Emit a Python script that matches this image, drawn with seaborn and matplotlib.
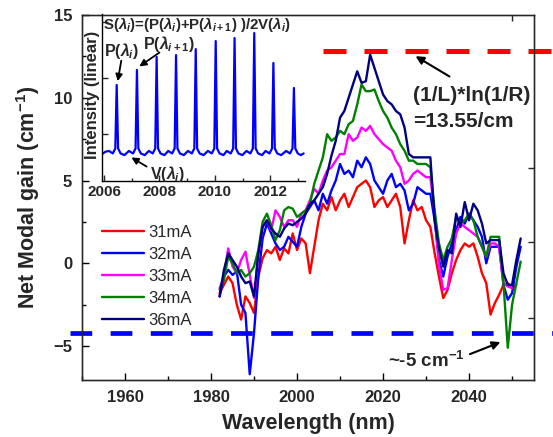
import numpy as np
import pandas as pd
import matplotlib
matplotlib.use("Agg")
import matplotlib.pyplot as plt
import seaborn as sns
from matplotlib.ticker import MultipleLocator

# ---------------- data ----------------
wavelength = list(range(1982, 2053))
nan = float("nan")
gain_31mA = [-1.8, -1.3, -0.8, -1.2, -2.5, -3.4, -2.0, -2.4, -3.0, -0.8,
             0.3, 0.8, 0.6, 1.0, 0.2, 0.9, 0.6, 1.8, 0.8, 1.5,
             1.2, -0.6, 1.0, 2.6, 3.6, 3.2, 4.0, 3.2, 3.8, 4.2,
             3.4, 4.0, 4.6, 4.8, 5.0, 4.6, 3.4, 3.8, 4.0, 3.4,
             3.8, 4.2, 3.4, 1.2, 2.6, 3.8, 3.2, 3.4, 2.6, 2.2,
             0.6, -0.8, -2.1, -1.6, -0.6, 0.2, 0.8, 1.2, 1.0, 1.2,
             0.4, -0.6, -1.2, -3.1, -2.4, -1.9, -1.3, -1.2, -1.5, -1.3, nan]
gain_32mA = [-2.0, -0.8, -0.4, -0.7, -0.5, -2.5, -3.0, -6.7, -4.2, -0.8,
             1.5, 2.4, 1.8, 1.2, 0.8, 1.0, 1.6, 1.3, 1.0, 2.2,
             3.0, 3.4, 3.8, 3.2, 4.2, 3.6, 4.4, 5.0, 6.0, 5.4,
             5.6, 5.2, 6.2, 5.8, 6.4, 6.0, 5.0, 4.6, 4.2, 5.0,
             5.4, 4.6, 4.8, 4.4, 3.2, 3.6, 4.6, 4.4, 4.2, 4.2,
             2.6, 0.2, -0.8, 0.4, 1.2, 2.0, 2.8, 2.4, 3.0, 2.6,
             2.2, 1.6, 0.0, 1.0, 1.0, 1.0, -1.3, -2.2, -1.8, -0.2, 1.0]
gain_33mA = [-1.5, -0.8, 0.9, -0.2, -0.6, 0.2, 0.7, -0.7, -2.1, 0.5,
             2.2, 2.6, 2.0, 3.2, 2.8, 2.2, 2.6, 2.6, 2.2, 3.0,
             3.2, 3.8, 4.5, 4.2, 5.0, 5.6, 5.8, 6.2, 6.6, 6.6,
             7.8, 7.4, 7.6, 8.2, 8.0, 8.3, 7.8, 7.5, 7.2, 7.0,
             6.8, 6.2, 5.8, 4.8, 5.0, 5.4, 5.6, 5.4, 5.2, 5.2,
             3.0, -0.1, -1.6, -1.5, 0.2, 1.8, 2.4, 2.2, 2.0, 1.8,
             1.6, 1.0, 0.4, 1.2, 1.2, 1.0, -1.2, -1.4, -1.5, nan, nan]
gain_34mA = [-1.6, -1.0, 0.4, 0.0, -0.6, -0.4, -0.8, -0.6, -0.2, 0.8,
             2.5, 3.0, 2.3, 1.4, 2.0, 3.2, 3.4, 3.3, 2.8, 3.0,
             3.2, 3.6, 4.8, 5.6, 6.4, 7.8, 7.4, 7.6, 8.0, 7.8,
             8.4, 8.6, 9.6, 10.8, 10.4, 10.4, 10.5, 9.8, 9.2, 8.8,
             8.2, 7.8, 7.2, 6.8, 6.2, 6.2, 6.0, 6.0, 6.0, 5.8,
             3.2, 1.2, 0.2, 1.0, 1.5, 2.8, 2.4, 2.6, 3.0, 2.6,
             1.6, 1.0, 0.4, 1.6, 1.6, 1.6, -1.2, -5.1, -2.5, -1.2, 0.1]
gain_36mA = [-2.0, -0.4, 0.6, 0.2, -0.2, -0.8, -1.2, -1.1, -2.0, 0.6,
             2.2, 2.6, 2.1, 1.8, 1.6, 2.1, 2.4, 2.3, 2.5, 2.7,
             3.0, 3.6, 3.8, 4.2, 4.6, 5.4, 6.5, 7.4, 8.8, 9.2,
             10.0, 10.8, 11.6, 10.9, 11.0, 12.6, 11.8, 11.0, 10.2, 9.8,
             9.6, 9.2, 9.0, 8.2, 6.6, 6.4, 6.4, 6.4, 6.4, 6.4,
             2.6, 0.9, -0.2, 0.8, 0.6, 3.0, 2.2, 3.7, 2.6, 3.6,
             3.2, 2.4, 1.2, 1.4, 1.4, 1.4, -0.6, -1.3, -1.3, 0.2, 1.5]
currents = ["31mA", "32mA", "33mA", "34mA", "36mA"]
colors = ["#ff0000", "#0000ff", "#ff00ff", "#008000", "#000080"]
threshold_gain = 12.8      # (1/L)*ln(1/R) level as drawn
loss_level = -4.2          # ~ -5 cm^-1 level as drawn

# inset spectrum (wavelength nm, intensity linear a.u.)
inset_x = [2005.97, 2006.05, 2006.18, 2006.32, 2006.41, 2006.46, 2006.51, 2006.60, 2006.74, 2006.90,
           2007.05, 2007.14, 2007.19, 2007.24, 2007.33, 2007.47, 2007.62,
           2007.76, 2007.85, 2007.90, 2007.95, 2008.04, 2008.18, 2008.32,
           2008.46, 2008.55, 2008.60, 2008.65, 2008.74, 2008.88, 2009.03,
           2009.17, 2009.26, 2009.31, 2009.36, 2009.45, 2009.59, 2009.75,
           2009.89, 2009.98, 2010.03, 2010.08, 2010.17, 2010.31, 2010.43,
           2010.57, 2010.66, 2010.71, 2010.76, 2010.85, 2010.99, 2011.14,
           2011.28, 2011.37, 2011.42, 2011.47, 2011.56, 2011.70, 2011.83,
           2011.97, 2012.06, 2012.11, 2012.16, 2012.25, 2012.39, 2012.57,
           2012.71, 2012.80, 2012.85, 2012.90, 2012.99, 2013.10, 2013.20]
inset_y = [0.165, 0.175, 0.180, 0.165, 0.195, 0.575, 0.195, 0.165, 0.155, 0.180,
           0.165, 0.195, 0.665, 0.195, 0.165, 0.155, 0.180,
           0.165, 0.195, 0.743, 0.195, 0.165, 0.155, 0.180,
           0.165, 0.195, 0.754, 0.195, 0.165, 0.155, 0.180,
           0.165, 0.195, 0.790, 0.195, 0.165, 0.155, 0.180,
           0.165, 0.195, 0.838, 0.195, 0.165, 0.155, 0.180,
           0.165, 0.195, 0.856, 0.195, 0.165, 0.155, 0.180,
           0.165, 0.195, 0.886, 0.195, 0.165, 0.155, 0.180,
           0.165, 0.195, 0.707, 0.195, 0.165, 0.155, 0.180,
           0.165, 0.195, 0.557, 0.195, 0.165, 0.155, 0.165]

# ---------------- style ----------------
sns.set_style("ticks")
plt.rcParams["font.family"] = ["Liberation Sans", "DejaVu Sans"]
plt.rcParams["mathtext.fontset"] = "custom"
plt.rcParams["mathtext.rm"] = "Liberation Sans:bold"
plt.rcParams["mathtext.bf"] = "Liberation Sans:bold"
plt.rcParams["mathtext.it"] = "Liberation Sans:italic:bold"

W, H = 553, 437
def fp(x, y):
    return (x / W, 1 - y / H)

fig = plt.figure(figsize=(W / 100, H / 100), dpi=100)
fig.patch.set_facecolor("white")
ax = fig.add_axes([82 / W, 1 - 380 / H, (534 - 82) / W, (380 - 15) / H])

df = pd.DataFrame({
    "wavelength": wavelength * 5,
    "gain": gain_31mA + gain_32mA + gain_33mA + gain_34mA + gain_36mA,
    "current": sum([[c] * len(wavelength) for c in currents], []),
})
sns.lineplot(data=df, x="wavelength", y="gain", hue="current",
             palette=dict(zip(currents, colors)), hue_order=currents,
             estimator=None, sort=False, lw=1.7, ax=ax)

ax.set_xlim(1950, 2055.1)
ax.set_ylim(-7.05, 15)
ax.xaxis.set_major_locator(MultipleLocator(20))
ax.xaxis.set_minor_locator(MultipleLocator(10))
ax.yaxis.set_major_locator(MultipleLocator(5))
ax.yaxis.set_minor_locator(MultipleLocator(2.5))
ax.tick_params(which="both", direction="in", width=1, color="black")
ax.tick_params(which="major", length=5, labelsize=12, pad=7)
ax.tick_params(which="minor", length=3)
for lab in ax.get_xticklabels() + ax.get_yticklabels():
    lab.set_fontweight("bold")
for s in ax.spines.values():
    s.set_linewidth(1.0)
    s.set_color("black")
ax.set_xlabel("Wavelength (nm)", fontsize=15.5, fontweight="bold", labelpad=6)
ax.set_ylabel(r"Net Modal gain (cm$^{-1}$)", fontsize=15.5, fontweight="bold", labelpad=8)

# right / top extra ticks
ax2 = ax.twinx()
ax2.set_ylim(ax.get_ylim())
ax2.set_yticks([5.77, 1.26, -3.3])
ax2.set_yticklabels([])
ax2.tick_params(direction="in", length=4, width=1)
ax3 = ax.twiny()
ax3.set_xlim(ax.get_xlim())
ax3.set_xticks([2050])
ax3.set_xticklabels([])
ax3.tick_params(direction="in", length=4, width=1)

# dashed reference levels
ax.plot([2006, 2059.5], [threshold_gain, threshold_gain], color="#ff0000", lw=3.6,
        dashes=(4.6, 3.6), dash_capstyle="butt", clip_on=False, zorder=5)
ax.plot([1947.2, 2059.5], [loss_level, loss_level], color="#0000ff", lw=3.4,
        dashes=(4.6, 3.9), dash_capstyle="butt", clip_on=False, zorder=5)

# legend
handles, labels = ax.get_legend_handles_labels()
leg = ax.legend(handles, labels, loc="upper left", bbox_to_anchor=fp(102, 225),
                bbox_transform=fig.transFigure, frameon=False, fontsize=12,
                handlelength=2.5, handletextpad=0.25, labelspacing=0.42,
                borderpad=0, borderaxespad=0)

# annotations
ax.text(2027.0, 10.15, "(1/L)*ln(1/R)", fontsize=15, fontweight="bold", va="center", ha="left")
ax.text(2027.0, 8.55, "=13.55/cm", fontsize=15, fontweight="bold", va="center", ha="left")
ax.annotate("", xy=(2027.0, 12.6), xytext=(2036.0, 11.2),
            arrowprops=dict(arrowstyle="-|>", color="black", lw=1.5, mutation_scale=12))
ax.text(2021.2, -5.9, r"~-5 cm$^{-1}$", fontsize=13.5, fontweight="bold", va="center", ha="left")
ax.annotate("", xy=(2047.9, -4.7), xytext=(2039.6, -5.55),
            arrowprops=dict(arrowstyle="-|>", color="black", lw=1.5, mutation_scale=12))

# ---------------- inset ----------------
axi = fig.add_axes([102 / W, 1 - 181 / H, (305 - 102) / W, (181 - 14) / H])
axi.set_facecolor("none")
sns.lineplot(x=inset_x, y=inset_y, color="#0000ff", lw=1.6, sort=False, estimator=None, ax=axi)
axi.set_xlim(2005.93, 2013.25)
axi.set_ylim(0, 1)
axi.spines["top"].set_visible(False)
axi.spines["right"].set_visible(False)
for s in ["left", "bottom"]:
    axi.spines[s].set_linewidth(1.0)
    axi.spines[s].set_color("black")
axi.xaxis.set_major_locator(MultipleLocator(2))
axi.xaxis.set_minor_locator(MultipleLocator(1))
axi.set_yticks([0.28, 0.616, 0.95])
axi.set_yticklabels([])
axi.tick_params(which="both", direction="in", width=1)
axi.tick_params(which="major", length=4, labelsize=11, pad=3)
axi.tick_params(which="minor", length=2.5)
for lab in axi.get_xticklabels():
    lab.set_fontweight("bold")
axi.set_xlabel("")
axi.set_ylabel("")

fig.text(*fp(93, 95), "Intensity (linear)", rotation=90, fontsize=12,
         fontweight="bold", ha="center", va="center")
fig.text(*fp(103, 24), r"S($\lambda_{i}$)=(P($\lambda_{i}$)+P($\lambda_{i+1}$) )/2V($\lambda_{i}$)",
         fontsize=10.8, fontweight="bold", ha="left", va="center")
fig.text(*fp(104, 51), r"P($\lambda_{i}$)", fontsize=11.5, fontweight="bold", ha="left", va="center")
fig.text(*fp(143, 44), r"P($\lambda_{i+1}$)", fontsize=11.5, fontweight="bold", ha="left", va="center")
fig.text(*fp(150, 174), r"V($\lambda_{i}$)", fontsize=11.5, fontweight="bold", ha="left", va="center")
for (x0, y0), (x1, y1) in [((121.7, 58), (117.3, 84)),
                           ((161.7, 51), (137, 68)),
                           ((149, 168), (129, 156))]:
    fig.add_artist(matplotlib.patches.FancyArrowPatch(
        fp(x0, y0), fp(x1, y1), transform=fig.transFigure,
        arrowstyle="-|>", color="black", lw=1.3, mutation_scale=10))

fig.savefig("out.png", dpi=100)
